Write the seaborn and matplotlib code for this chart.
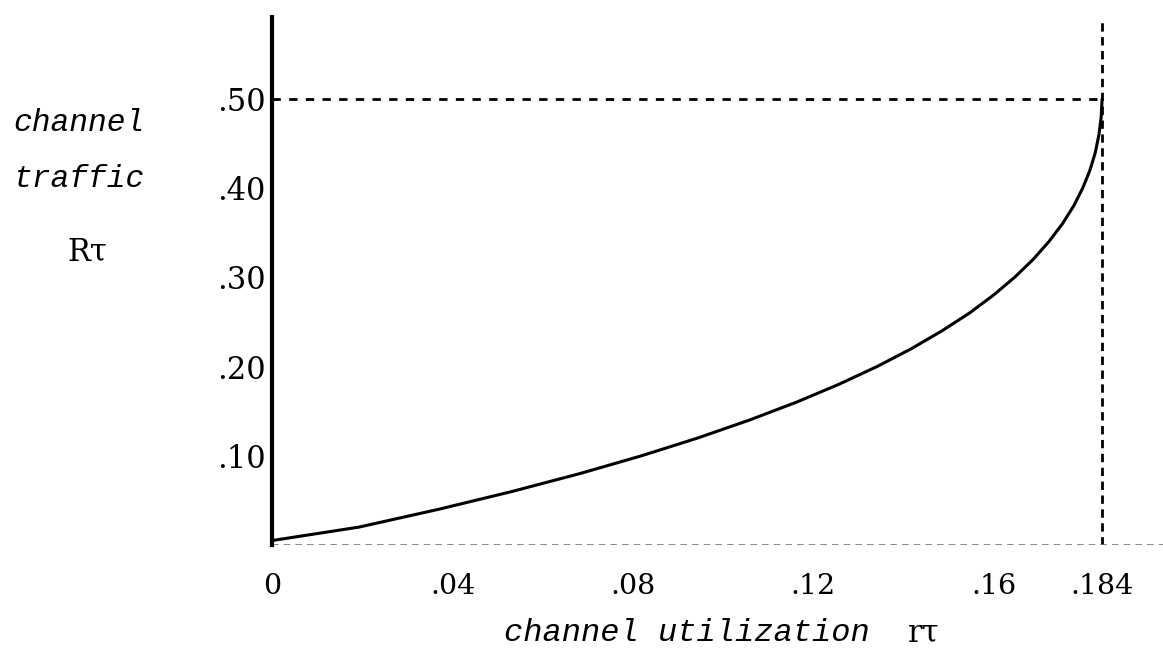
import matplotlib
matplotlib.use("Agg")
import matplotlib.pyplot as plt
import seaborn as sns

# channel traffic (R tau) against channel utilization (r tau)
traffic = [0.005, 0.02, 0.04, 0.06, 0.08, 0.10, 0.12, 0.14, 0.16, 0.18, 0.20,
           0.22, 0.24, 0.26, 0.28, 0.30, 0.32, 0.34, 0.36, 0.38, 0.40,
           0.42, 0.44, 0.46, 0.48, 0.50]
utilization = [0.0, 0.0192, 0.0369, 0.0532, 0.0682, 0.0819, 0.0944, 0.1058,
               0.1162, 0.1256, 0.1341, 0.1417, 0.1485, 0.1546, 0.1599, 0.1646,
               0.1687, 0.1722, 0.1752, 0.1777, 0.1797, 0.1813, 0.1825, 0.1833,
               0.1838, 0.1840]

x_ticks = [0, 0.04, 0.08, 0.12, 0.16, 0.184]
x_tick_labels = ["0", ".04", ".08", ".12", ".16", ".184"]
y_ticks = [0.10, 0.20, 0.30, 0.40, 0.50]
y_tick_labels = [".10", ".20", ".30", ".40", ".50"]
max_util = 0.184
max_traffic = 0.50

sns.set_theme(style="white")
plt.rcParams["font.family"] = ["DejaVu Serif", "Liberation Serif"]
plt.rcParams["text.color"] = "black"
plt.rcParams["xtick.color"] = "black"
plt.rcParams["ytick.color"] = "black"

fig = plt.figure(figsize=(11.63, 6.72), dpi=100)
ax = fig.add_axes([0.234, 0.189, 0.766, 0.786])

sns.lineplot(x=utilization, y=traffic, sort=False, estimator=None,
             color="black", linewidth=2.2, ax=ax)

# guide lines at the maximum
ax.plot([0, max_util], [max_traffic, max_traffic], color="black",
        linestyle=(0, (3, 3)), linewidth=2)
ax.plot([max_util, max_util], [0, 0.588], color="black",
        linestyle=(0, (3, 2)), linewidth=2)
# faint x axis
ax.plot([0, 0.1975], [0, 0], color="#777777", linestyle=(0, (4, 3)), linewidth=1.2)

ax.set_xlim(0, 0.1975)
ax.set_ylim(0, 0.592)

for side in ["top", "right", "bottom"]:
    ax.spines[side].set_visible(False)
ax.spines["left"].set_linewidth(3)
ax.spines["left"].set_color("black")

ax.set_xticks(x_ticks)
ax.set_xticklabels(x_tick_labels, fontsize=20.5)
ax.set_yticks(y_ticks)
ax.set_yticklabels(y_tick_labels, fontsize=22)
ax.tick_params(axis="x", length=0, pad=20)
ax.tick_params(axis="y", direction="inout", length=7, width=2.5, pad=1)

mono = ["Liberation Mono", "DejaVu Sans Mono"]
fig.text(0.068, 0.817, "channel", fontsize=22.5, style="italic", family=mono,
         ha="center", va="center")
fig.text(0.068, 0.733, "traffic", fontsize=22.5, style="italic", family=mono,
         ha="center", va="center")
fig.text(0.075, 0.625, "R\u03c4", fontsize=22, ha="center", va="center")

fig.text(0.591, 0.058, "channel utilization", fontsize=23, style="italic",
         family=mono, ha="center", va="center")
fig.text(0.794, 0.058, "r\u03c4", fontsize=22, ha="center", va="center")

fig.savefig("out.png", dpi=100)
